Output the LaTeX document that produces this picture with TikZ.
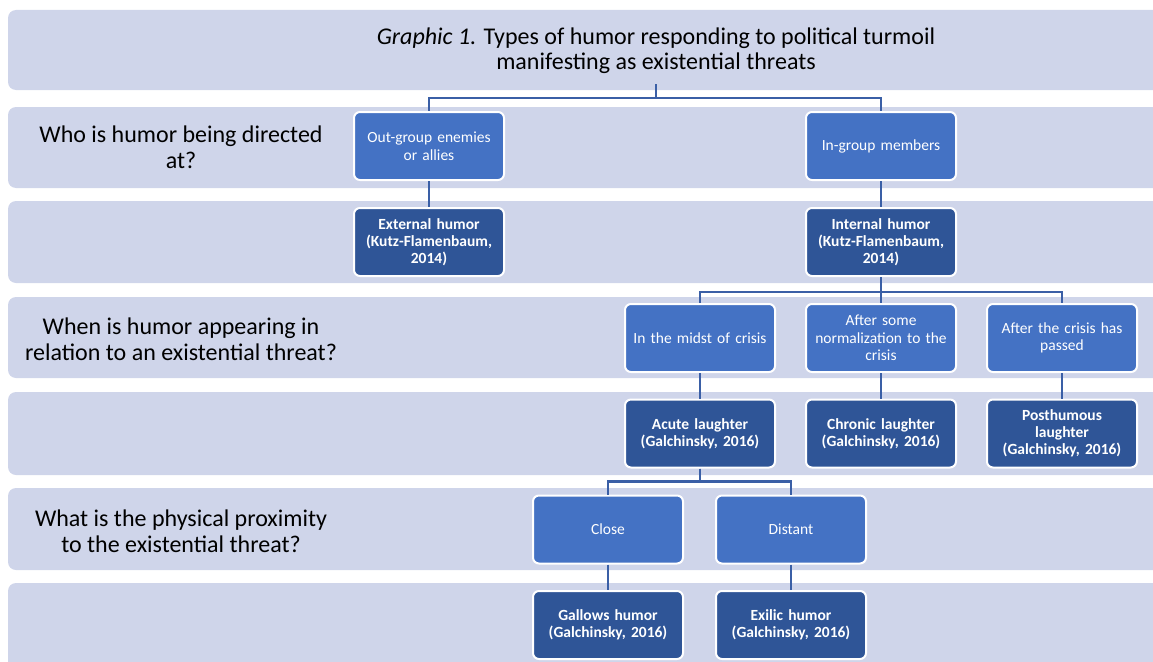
\documentclass[tikz,border=0pt]{standalone}
\usepackage{fontspec}
\setmainfont{Carlito}
\definecolor{bandcol}{HTML}{CFD5EA}
\definecolor{lightbox}{HTML}{4472C4}
\definecolor{darkbox}{HTML}{2F5597}
\definecolor{linkcol}{HTML}{3A5FA6}
\begin{document}
\begin{tikzpicture}[x=1pt, y=-1pt,
    band/.style={fill=bandcol, rounded corners=8pt},
    qbox/.style={draw=white, line width=2pt, fill=lightbox, rounded corners=6pt,
         minimum width=150pt, minimum height=68pt, text width=146pt, align=center,
         inner sep=2pt, text=white, font=\fontsize{15.5}{17.5}\selectfont},
    abox/.style={qbox, fill=darkbox, font=\fontsize{15.5}{17}\selectfont\bfseries},
    rowtext/.style={align=center, font=\fontsize{24}{26}\selectfont},
    link/.style={draw=linkcol, line width=2.5pt}]

    \useasboundingbox (0,0) rectangle (1153,661);

    % Hintergrundbaender
    \fill[band] (8,10) rectangle (1175,90);
    \fill[band] (8,107) rectangle (1175,188);
    \fill[band] (8,201) rectangle (1175,283);
    \fill[band] (8,297) rectangle (1175,378);
    \fill[band] (8,392) rectangle (1175,475);
    \fill[band] (8,488) rectangle (1175,570);
    \fill[band] (8,583) rectangle (1175,680);

    % Titel und Fragen
    \node[rowtext, font=\fontsize{24}{25}\selectfont] (title) at (656,51)
         {\textit{Graphic 1.} Types of humor responding to political turmoil\\manifesting as existential threats};
    \node[rowtext] (q1) at (181,147) {Who is humor being directed\\at?};
    \node[rowtext] (q2) at (181,339) {When is humor appearing in\\relation to an existential threat?};
    \node[rowtext] (q3) at (181,531) {What is the physical proximity\\to the existential threat?};
    \coordinate (root) at (656,84);

    % Kaesten
    \node[qbox] (out) at (429,146) {Out-group enemies\\or allies};
    \node[qbox] (in) at (881,146) {In-group members};
    \node[abox] (ext) at (429,242) {External humor\\(Kutz-Flamenbaum,\\2014)};
    \node[abox] (int) at (881,242) {Internal humor\\(Kutz-Flamenbaum,\\2014)};

    \node[qbox] (mid) at (700,338) {In the midst of crisis};
    \node[qbox] (norm) at (881,338) {After some\\normalization to the\\crisis};
    \node[qbox] (past) at (1062,338) {After the crisis has\\passed};
    \node[abox] (acute) at (700,433.5) {Acute laughter\\(Galchinsky, 2016)};
    \node[abox] (chron) at (881,433.5) {Chronic laughter\\(Galchinsky, 2016)};
    \node[abox] (post) at (1062,433.5) {Posthumous\\laughter\\(Galchinsky, 2016)};

    \node[qbox] (close) at (608,529.5) {Close};
    \node[qbox] (dist) at (791,529.5) {Distant};
    \node[abox] (gal) at (608,625) {Gallows humor\\(Galchinsky, 2016)};
    \node[abox] (exi) at (791,625) {Exilic humor\\(Galchinsky, 2016)};

    % Verbindungen
    \draw[link] (root) -- ++(0,14) -| (out.north);
    \draw[link] (root) -- ++(0,14) -| (in.north);
    \draw[link] (out) -- (ext);
    \draw[link] (in) -- (int);
    \draw[link] (int.south) -- ++(0,15) -| (mid.north);
    \draw[link] (int.south) -- ++(0,15) -| (past.north);
    \draw[link] (int) -- (norm);
    \draw[link] (mid) -- (acute);
    \draw[link] (norm) -- (chron);
    \draw[link] (past) -- (post);
    \draw[link] (acute.south) -- ++(0,13) -| (close.north);
    \draw[link] (acute.south) -- ++(0,13) -| (dist.north);
    \draw[link] (close) -- (gal);
    \draw[link] (dist) -- (exi);

\end{tikzpicture}
\end{document}
